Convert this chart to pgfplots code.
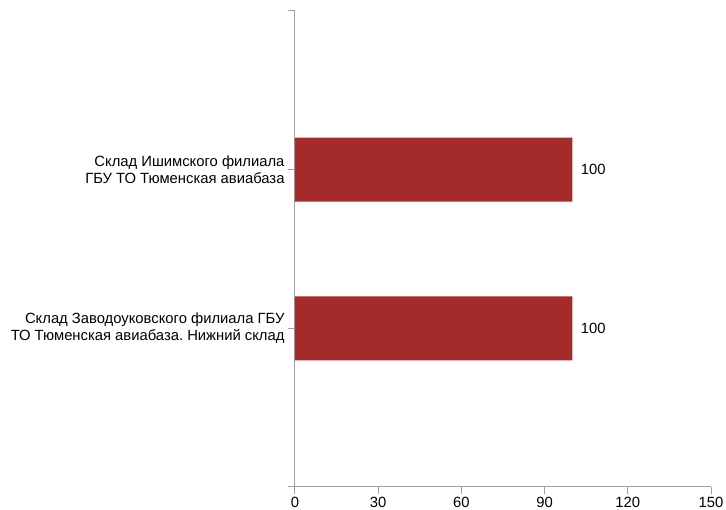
\documentclass[border=0pt]{standalone}
\usepackage{pgfplots}
\pgfplotsset{compat=1.18}
\usepackage{fontspec}
\setmainfont{Liberation Sans}
\frenchspacing
\definecolor{barred}{RGB}{165,42,42}
\definecolor{axisgray}{RGB}{160,160,160}
\begin{document}
\begin{tikzpicture}
\path[use as bounding box] (0,0) rectangle (726pt,510pt);
\begin{axis}[
    at={(295pt,23pt)}, anchor=south west,
    scale only axis,
    width=416pt, height=476pt,
    xbar,
    bar width=64pt,
    xmin=0, xmax=150,
    ymin=0, ymax=3,
    xtick={0,30,60,90,120,150},
    ytick={0,1,2,3},
    yticklabels={{},{Склад Заводоуковского филиала ГБУ\\ТО Тюменская авиабаза. Нижний склад},{Склад Ишимского филиала\\ГБУ ТО Тюменская авиабаза},{}},
    axis x line*=bottom,
    axis y line*=left,
    axis line style={axisgray, line width=1pt},
    tick style={axisgray, line width=1pt},
    tick align=outside,
    major tick length=7pt,
    font=\fontsize{14.8}{17}\selectfont,
    /pgf/number format/assume math mode=true,
    yticklabel style={align=right, font=\fontsize{14.8}{17}\selectfont},
    xticklabel style={font=\fontsize{14.8}{17}\selectfont},
    nodes near coords,
    nodes near coords style={font=\fontsize{14.8}{17}\selectfont, anchor=west, xshift=5pt},
]
\addplot[fill=barred, draw=none] coordinates {
    (100,1)
    (100,2)
};
\end{axis}
\end{tikzpicture}
\end{document}
